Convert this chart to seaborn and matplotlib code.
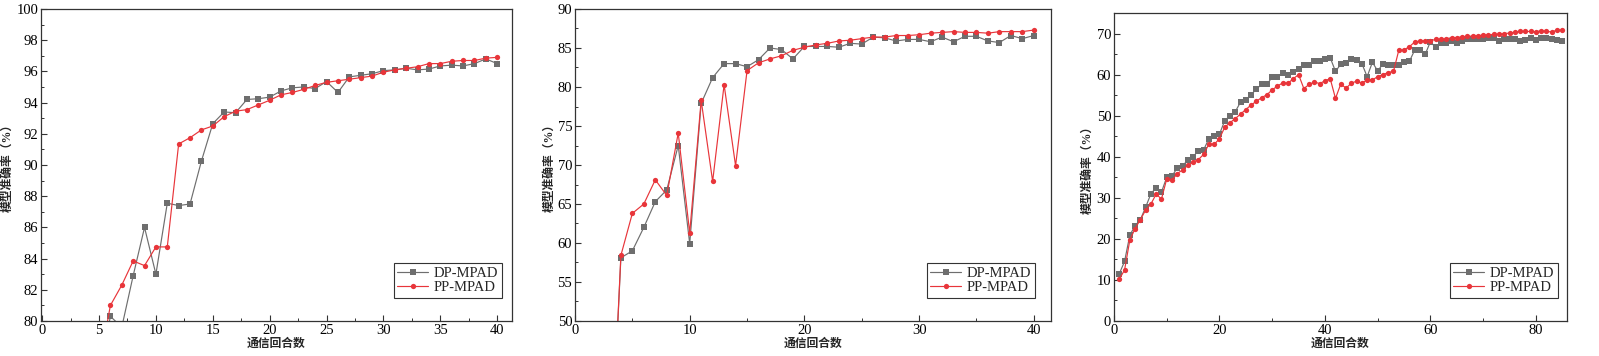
import numpy as np
import pandas as pd
import matplotlib
matplotlib.use("Agg")
import matplotlib.pyplot as plt
from matplotlib.ticker import MultipleLocator
import seaborn as sns

# ---- data ----
# panel 1 (values below 80 are clipped by the axis)
rounds_a = list(range(5, 41))
dp_a = [76.5, 80.3, 79.6, 82.9, 86.0, 83.0, 87.55, 87.4, 87.5, 90.25,
        92.65, 93.4, 93.35, 94.2, 94.25, 94.35, 94.75, 94.95, 95.0, 94.9,
        95.35, 94.65, 95.65, 95.75, 95.85, 96.05, 96.1, 96.2, 96.1, 96.15,
        96.35, 96.4, 96.35, 96.5, 96.8, 96.5]
pp_a = [77.0, 81.0, 82.3, 83.85, 83.55, 84.75, 84.75, 91.35, 91.75, 92.25,
        92.5, 93.1, 93.45, 93.55, 93.85, 94.15, 94.5, 94.65, 94.85, 95.1,
        95.3, 95.4, 95.5, 95.6, 95.7, 95.95, 96.1, 96.2, 96.3, 96.5,
        96.5, 96.65, 96.7, 96.7, 96.85, 96.9]

# panel 2
rounds_b = list(range(3, 41))
dp_b = [27.0, 58.1, 59.0, 62.0, 65.3, 66.8, 72.5, 59.9, 77.9, 81.2,
        83.0, 83.0, 82.6, 83.5, 85.0, 84.8, 83.6, 85.2, 85.2, 85.2,
        85.1, 85.6, 85.5, 86.4, 86.3, 85.9, 86.1, 86.1, 85.8, 86.4,
        85.8, 86.5, 86.5, 85.9, 85.7, 86.6, 86.2, 86.6]
pp_b = [27.0, 58.4, 63.8, 65.0, 68.1, 66.1, 74.1, 61.3, 78.3, 67.9,
        80.3, 69.9, 82.1, 83.1, 83.6, 84.0, 84.7, 85.1, 85.4, 85.6,
        85.9, 86.0, 86.2, 86.4, 86.4, 86.6, 86.6, 86.7, 86.9, 87.0,
        87.1, 87.0, 87.0, 86.9, 87.1, 87.1, 87.1, 87.3]

# panel 3
rounds_c = list(range(1, 86))
dp_c = [11.5, 14.5, 20.9, 23.2, 24.7, 27.7, 31.0, 32.5, 31.4, 35.0,
        35.3, 37.3, 37.8, 39.2, 40.0, 41.5, 41.7, 44.4, 45.1, 45.5,
        48.8, 50.0, 51.0, 53.3, 53.9, 55.1, 56.5, 57.6, 57.6, 59.4,
        59.4, 60.5, 60.0, 60.7, 61.4, 62.4, 62.3, 63.3, 63.4, 63.8,
        64.1, 60.8, 62.5, 62.9, 63.7, 63.5, 62.7, 59.5, 63.0, 60.9,
        62.6, 62.3, 62.3, 62.3, 63.0, 63.2, 65.9, 65.9, 64.9, 68.0,
        66.6, 67.6, 67.6, 68.1, 67.8, 68.1, 68.6, 68.6, 68.7, 68.7,
        68.9, 68.9, 68.3, 68.6, 68.6, 68.6, 68.1, 68.5, 68.8, 68.5,
        68.8, 68.8, 68.7, 68.5, 68.3]
pp_c = [10.2, 12.4, 19.7, 22.5, 24.7, 27.0, 28.5, 30.9, 29.7, 34.6,
        34.3, 35.9, 36.8, 37.9, 38.7, 39.3, 40.6, 43.1, 43.0, 44.4,
        47.2, 48.3, 49.3, 50.4, 51.5, 52.6, 53.5, 54.4, 55.1, 56.3,
        57.2, 58.0, 57.9, 59.0, 60.0, 56.6, 57.6, 58.2, 57.8, 58.5,
        59.0, 54.2, 57.7, 56.7, 57.9, 58.4, 57.9, 58.8, 58.7, 59.5,
        60.0, 60.5, 60.8, 65.9, 66.0, 66.8, 67.9, 68.2, 68.2, 68.2,
        68.6, 68.6, 68.7, 69.0, 69.0, 69.2, 69.3, 69.4, 69.5, 69.6,
        69.7, 69.8, 69.8, 70.0, 70.1, 70.3, 70.5, 70.5, 70.5, 70.4,
        70.7, 70.5, 70.4, 70.8, 70.8]

series_names = ["DP-MPAD", "PP-MPAD"]
x_label = "通信回合数"
y_label = "模型准确率（%）"

sns.set_style("white")
plt.rcParams['font.family'] = ['Liberation Serif', 'Noto Sans CJK SC']
plt.rcParams['axes.unicode_minus'] = False

fig = plt.figure(figsize=(15.99, 3.56), dpi=100)
W, H = 1599, 356

def px_axes(l, r, t, b):
    return fig.add_axes([l / W, (H - b) / H, (r - l) / W, (b - t) / H])

colors = {"DP-MPAD": "#6e6e6e", "PP-MPAD": "#e8353a"}
markers = {"DP-MPAD": "s", "PP-MPAD": "o"}

panels = [
    dict(box=(41, 512, 9, 321), x=rounds_a, dp=dp_a, pp=pp_a,
         xlim=(-0.1, 41.3), ylim=(80, 100), xmaj=5, xmin=2.5, ymaj=2, ymin=1,
         ylab_x=8, leg_r=502),
    dict(box=(575, 1051, 9, 321), x=rounds_b, dp=dp_b, pp=pp_b,
         xlim=(0, 41.5), ylim=(50, 90), xmaj=10, xmin=5, ymaj=5, ymin=2.5,
         ylab_x=550, leg_r=1035),
    dict(box=(1114, 1567, 13, 321), x=rounds_c, dp=dp_c, pp=pp_c,
         xlim=(0, 85.9), ylim=(0, 75), xmaj=20, xmin=10, ymaj=10, ymin=5,
         ylab_x=1088, leg_r=1558),
]

for p in panels:
    l, r, t, b = p["box"]
    ax = px_axes(l, r, t, b)
    df = pd.DataFrame({"round": p["x"] * 2,
                       "acc": p["dp"] + p["pp"],
                       "method": [series_names[0]] * len(p["x"]) + [series_names[1]] * len(p["x"])})
    for name in series_names:
        sub = df[df["method"] == name]
        sns.lineplot(data=sub, x="round", y="acc", ax=ax, color=colors[name],
                     marker=markers[name], markersize=3.8, markeredgewidth=0,
                     linewidth=0.85, label=name)
    ax.set_xlim(*p["xlim"])
    ax.set_ylim(*p["ylim"])
    ax.xaxis.set_major_locator(MultipleLocator(p["xmaj"]))
    ax.xaxis.set_minor_locator(MultipleLocator(p["xmin"]))
    ax.yaxis.set_major_locator(MultipleLocator(p["ymaj"]))
    ax.yaxis.set_minor_locator(MultipleLocator(p["ymin"]))
    ax.tick_params(which="both", direction="in", bottom=True, left=True,
                   top=False, right=False, colors="#333333", labelcolor="black")
    ax.tick_params(which="major", length=4, width=0.8, labelsize=10.5, pad=2)
    ax.tick_params(which="minor", length=2.5, width=0.7)
    for s in ax.spines.values():
        s.set_color("#333333")
        s.set_linewidth(0.9)
    ax.set_xlabel(x_label, fontsize=8.5, fontweight="bold", labelpad=1)
    ax.set_ylabel("")
    fig.text(p["ylab_x"] / W, (H - (t + b) / 2) / H, y_label,
             rotation=90, ha="center", va="center", fontsize=8.5, fontweight="bold")
    leg = ax.legend(loc="lower right", fontsize=10.5, handlelength=2.1,
                    handletextpad=0.4, borderpad=0.25, labelspacing=0.1,
                    borderaxespad=0, fancybox=False, framealpha=1,
                    edgecolor="#333333",
                    bbox_to_anchor=((p["leg_r"] - l) / (r - l), (b - 298) / (b - t)))
    leg.get_frame().set_linewidth(0.8)

fig.savefig("out.png", dpi=100)
